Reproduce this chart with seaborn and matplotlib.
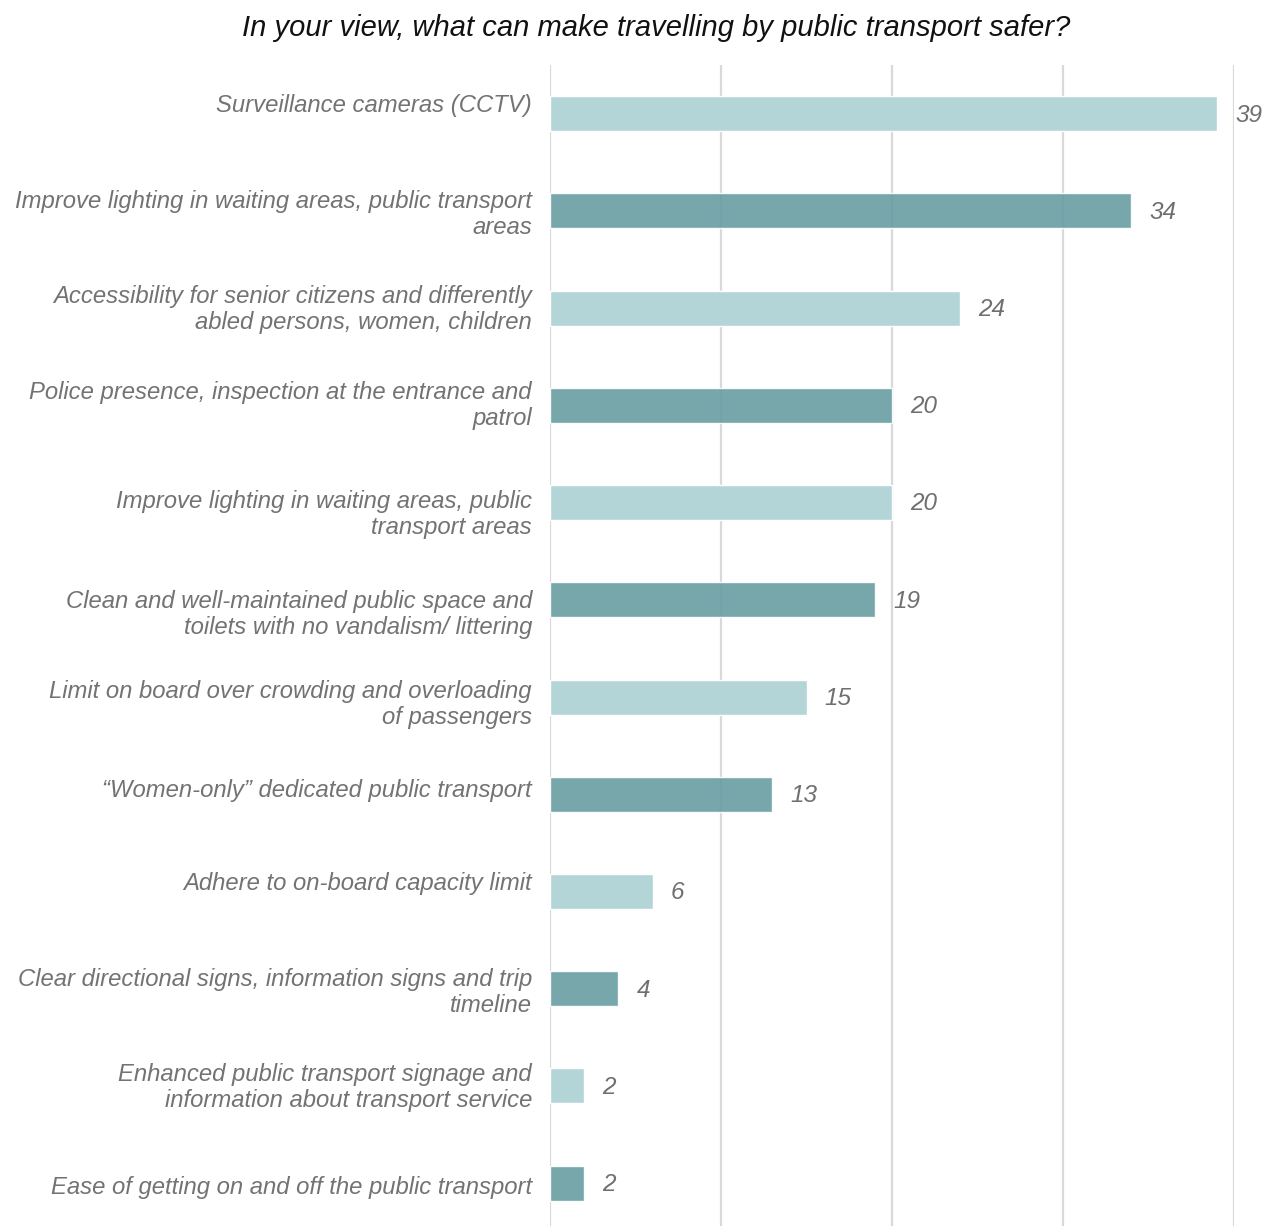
import matplotlib
matplotlib.use("Agg")
import matplotlib.pyplot as plt
import matplotlib.transforms as mtransforms
import seaborn as sns
import pandas as pd

# Survey answers, top to bottom
answers = [
    "Surveillance cameras (CCTV)",
    "Improve lighting in waiting areas, public transport\nareas",
    "Accessibility for senior citizens and differently\nabled persons, women, children",
    "Police presence, inspection at the entrance and\npatrol",
    "Improve lighting in waiting areas, public\ntransport areas",
    "Clean and well-maintained public space and\ntoilets with no vandalism/ littering",
    "Limit on board over crowding and overloading\nof passengers",
    "\u201cWomen-only\u201d dedicated public transport",
    "Adhere to on-board capacity limit",
    "Clear directional signs, information signs and trip\ntimeline",
    "Enhanced public transport signage and\ninformation about transport service",
    "Ease of getting on and off the public transport",
]
shares = [39, 34, 24, 20, 20, 19, 15, 13, 6, 4, 2, 2]
shade = ["light", "dark"] * 6
x_ticks = [0, 10, 20, 30, 40]

title = "In your view, what can make travelling by public transport safer?"

df = pd.DataFrame({"answer": answers, "share": shares, "shade": shade})

sns.set_theme(style="white")
plt.rcParams["font.family"] = ["Liberation Sans", "DejaVu Sans"]

fig = plt.figure(figsize=(12.72, 12.26), dpi=100)
ax = fig.add_axes([550 / 1272, 0.0, (1234 - 550) / 1272, 1 - 65 / 1226])

palette = {"light": "#b4d5d8", "dark": "#6b9fa4"}
sns.barplot(data=df, y="answer", x="share", hue="shade", palette=palette,
            order=answers, hue_order=["light", "dark"], dodge=False,
            width=0.36, legend=False, ax=ax, saturation=1, zorder=3)

# darker bars let the grid show through faintly
for p in ax.patches:
    if p.get_facecolor()[0] < 0.5:
        p.set_alpha(0.92)

ax.set_xlim(0, 40)
ax.set_ylim(11.44, -0.5)
ax.set_xticks(x_ticks)
ax.tick_params(axis="x", bottom=False, labelbottom=False)
ax.grid(axis="x", color="#d9d9d9", linewidth=1.6, zorder=0)
ax.set_axisbelow(True)
ax.grid(axis="y", visible=False)
for s in ax.spines.values():
    s.set_visible(False)
ax.set_xlabel("")
ax.set_ylabel("")

# category labels sit slightly off the bar centres (pixels, up is positive)
label_shift = [11, 0, 2.5, 3.5, -7.5, -11, -3, 6, 11, 0, 2.5, -2]

ax.tick_params(axis="y", left=False, pad=7)
for lbl, dy in zip(ax.get_yticklabels(), label_shift):
    lbl.set_fontstyle("italic")
    lbl.set_fontsize(17.2)
    lbl.set_color("#737373")
    lbl.set_linespacing(1.17)
    lbl.set_transform(lbl.get_transform() +
                      mtransforms.ScaledTranslation(0, dy / 100, fig.dpi_scale_trans))

for i, v in enumerate(shares):
    ax.annotate(f"{v}", xy=(v, i), xytext=(13, -1), textcoords="offset points",
                ha="left", va="center", fontsize=17.5, fontstyle="italic",
                color="#6f6f6f", annotation_clip=False)

fig.text(656 / 1272, 1 - 28 / 1226, title, ha="center", va="center",
         fontsize=21, fontstyle="italic", color="#111111")

fig.savefig("out.png", dpi=100)
